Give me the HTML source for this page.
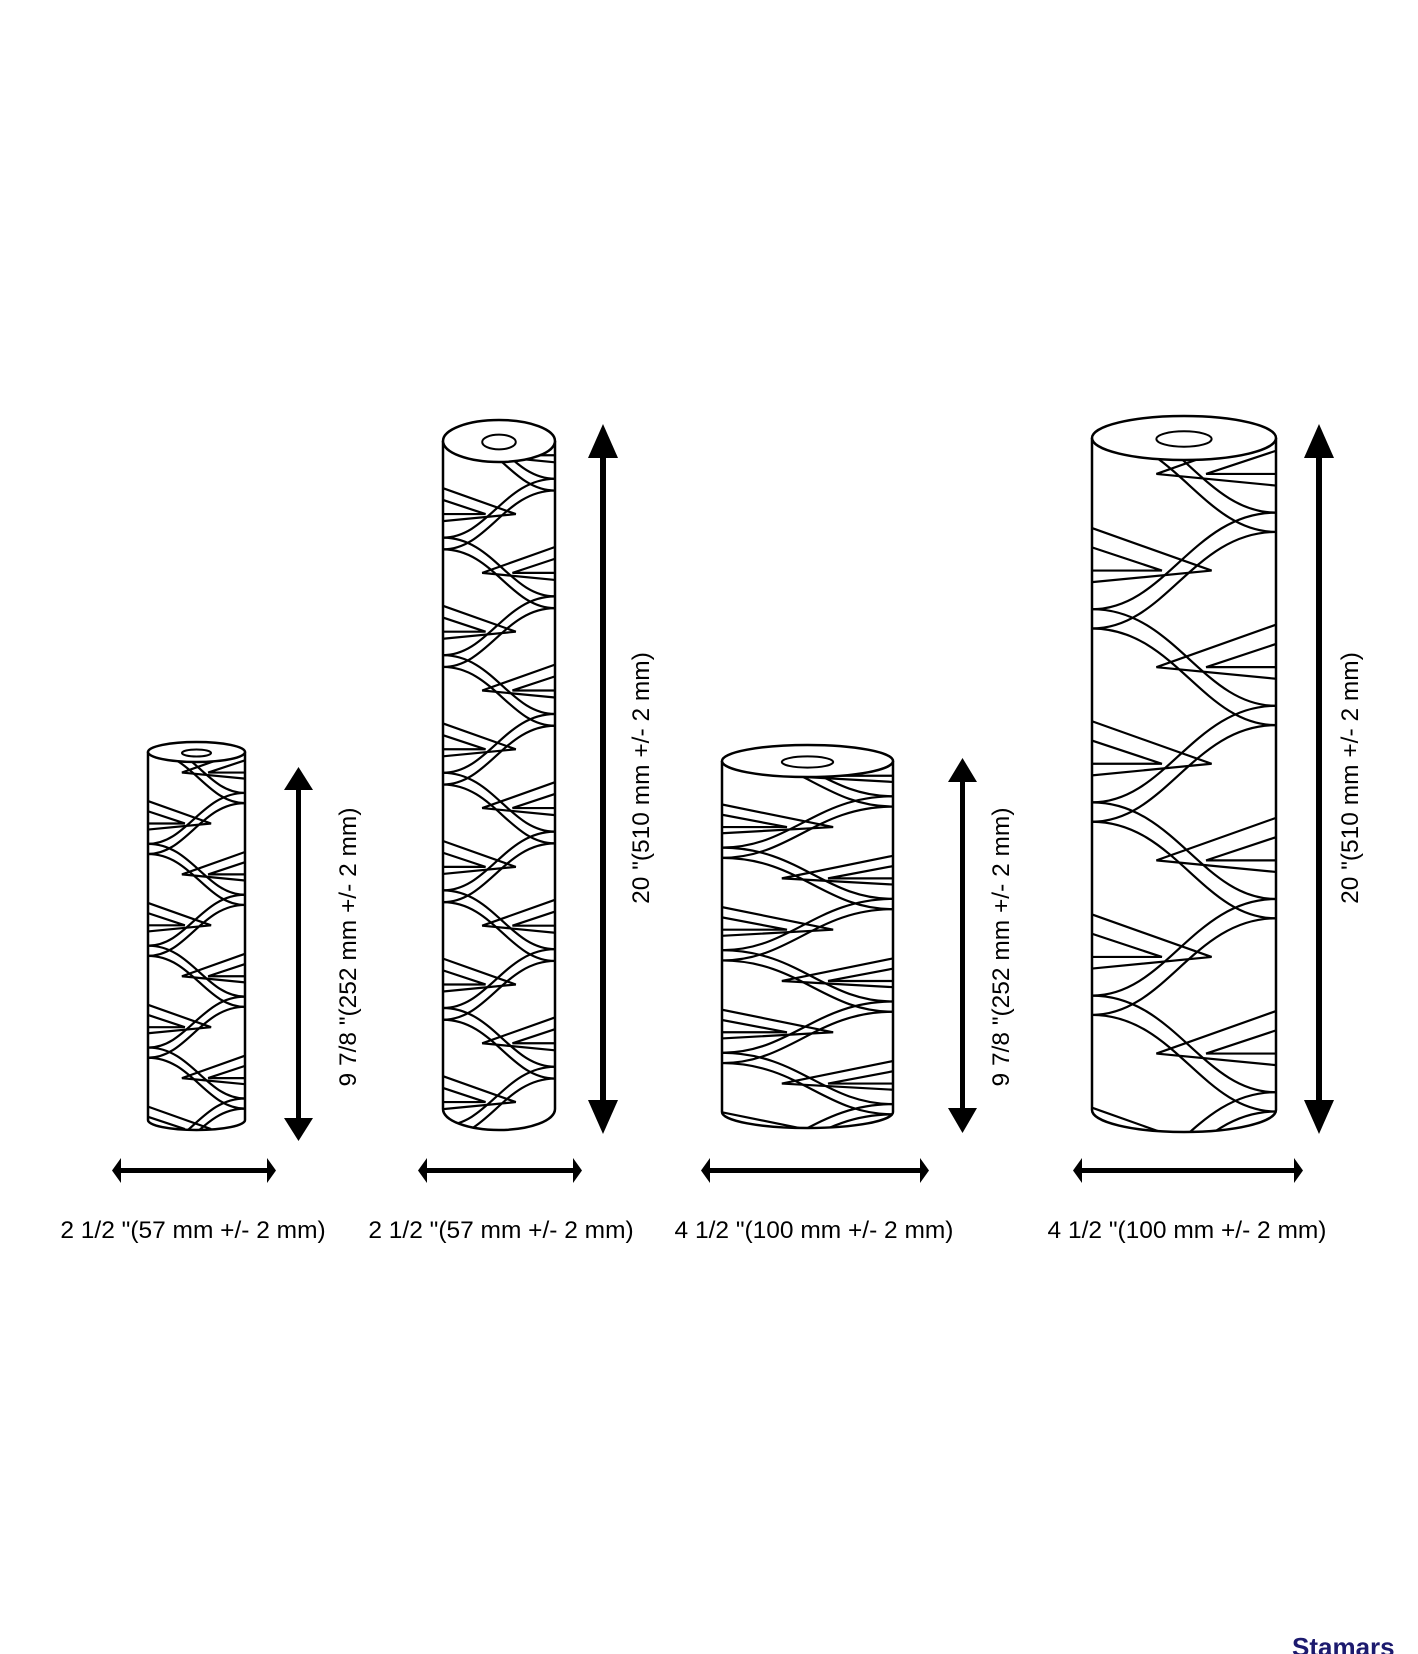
<!DOCTYPE html>
<html><head><meta charset="utf-8"><style>
html,body{margin:0;padding:0;background:#fff;}
svg{display:block;}
text{font-family:"Liberation Sans",Arial,sans-serif;}
</style></head><body>
<svg id="s" width="1418" height="1654" viewBox="0 0 1418 1654" xmlns="http://www.w3.org/2000/svg">
<g id="cyls"></g>
<g fill="#000" stroke="none">
<rect x="296" y="790" width="5" height="330"/>
<path d="M284,790 L298.5,767 L313,790 z"/><path d="M284,1118 L298.5,1141 L313,1118 z"/>
<rect x="600" y="455" width="6" height="650"/>
<path d="M588,458 L603,424 L618,458 z"/><path d="M588,1100 L603,1134 L618,1100 z"/>
<rect x="960" y="780" width="5" height="330"/>
<path d="M948,782 L962.5,758 L977,782 z"/><path d="M948,1108 L962.5,1133 L977,1108 z"/>
<rect x="1316" y="455" width="6" height="650"/>
<path d="M1304,458 L1319,424 L1334,458 z"/><path d="M1304,1100 L1319,1134 L1334,1100 z"/>
<rect x="118" y="1168" width="152" height="5"/>
<path d="M121,1158 L112,1170.5 L121,1183 z"/><path d="M267,1158 L276,1170.5 L267,1183 z"/>
<rect x="424" y="1168" width="152" height="5"/>
<path d="M427,1158 L418,1170.5 L427,1183 z"/><path d="M573,1158 L582,1170.5 L573,1183 z"/>
<rect x="707" y="1168" width="216" height="5"/>
<path d="M710,1158 L701,1170.5 L710,1183 z"/><path d="M920,1158 L929,1170.5 L920,1183 z"/>
<rect x="1079" y="1168" width="218" height="5"/>
<path d="M1082,1158 L1073,1170.5 L1082,1183 z"/><path d="M1294,1158 L1303,1170.5 L1294,1183 z"/>
</g>
<g font-size="24.5" fill="#000" text-anchor="middle">
<text x="193" y="1238">2 1/2 "(57 mm +/- 2 mm)</text>
<text x="501" y="1238">2 1/2 "(57 mm +/- 2 mm)</text>
<text x="814" y="1238">4 1/2 "(100 mm +/- 2 mm)</text>
<text x="1187" y="1238">4 1/2 "(100 mm +/- 2 mm)</text>
<text transform="translate(356,947) rotate(-90)">9 7/8 "(252 mm +/- 2 mm)</text>
<text transform="translate(649,778) rotate(-90)">20 "(510 mm +/- 2 mm)</text>
<text transform="translate(1009,947) rotate(-90)">9 7/8 "(252 mm +/- 2 mm)</text>
<text transform="translate(1358,778) rotate(-90)">20 "(510 mm +/- 2 mm)</text>
</g>
<text x="1292" y="1656" font-size="26" font-weight="bold" fill="#1c1a6e">Stamars</text>
</svg>
<script>
var C=[[148,97,742,1130,10],[443,112,420,1130,21],[722,171,745,1128,16],[1092,184,416,1132,22]];
var g=document.getElementById('cyls'),h='';
C.forEach(function(c,i){
 var x=c[0],w=c[1],t=c[2],b=c[3],ry=c[4],cx=x+w/2,ty=t+ry;
 var P=(i==2)?w*0.6:w*1.05;
 h+='<clipPath id="c'+i+'"><path d="M'+x+','+ty+' A'+w/2+','+ry+' 0 0 0 '+(x+w)+','+ty+' L'+(x+w)+','+(b-ry)+' A'+w/2+','+ry+' 0 0 1 '+x+','+(b-ry)+' z"/></clipPath>';
 h+='<g clip-path="url(#c'+i+')" fill="none" stroke="#000" stroke-width="2.2">';
 var gap=P*0.1;
 for(var y=t-P;y<b+P;y+=P){
  for(var k=0;k<2;k++){
   var o=k*gap;
   h+='<path d="M'+x+','+(y+o)+' C'+(x+w*0.45)+','+(y+o)+' '+(x+w*0.6)+','+(y+o+P*0.5)+' '+(x+w)+','+(y+o+P*0.5)+'"/>';
   h+='<path d="M'+(x+w)+','+(y+o+P*0.5)+' C'+(x+w*0.55)+','+(y+o+P*0.5)+' '+(x+w*0.4)+','+(y+o+P)+' '+x+','+(y+o+P)+'"/>';
  }
  // nested chevrons pointing left on right side
  h+='<path d="M'+(x+w)+','+(y+P*0.08)+' L'+(x+w*0.35)+','+(y+P*0.3)+' L'+(x+w)+','+(y+P*0.36)+'"/>';
  h+='<path d="M'+(x+w)+','+(y+P*0.18)+' L'+(x+w*0.62)+','+(y+P*0.3)+' L'+(x+w)+','+(y+P*0.3)+'"/>';
  // chevrons pointing right on left side
  h+='<path d="M'+x+','+(y+P*0.58)+' L'+(x+w*0.65)+','+(y+P*0.8)+' L'+x+','+(y+P*0.86)+'"/>';
  h+='<path d="M'+x+','+(y+P*0.68)+' L'+(x+w*0.38)+','+(y+P*0.8)+' L'+x+','+(y+P*0.8)+'"/>';
 }
 h+='</g>';
 h+='<path fill="none" stroke="#000" stroke-width="2.5" d="M'+x+','+ty+' L'+x+','+(b-ry)+' A'+w/2+','+ry+' 0 0 0 '+(x+w)+','+(b-ry)+' L'+(x+w)+','+ty+'"/>';
 h+='<ellipse cx="'+cx+'" cy="'+ty+'" rx="'+w/2+'" ry="'+ry+'" fill="#fff" stroke="#000" stroke-width="2.5"/>';
 h+='<ellipse cx="'+cx+'" cy="'+(ty+1)+'" rx="'+w*0.15+'" ry="'+ry*0.35+'" fill="#fff" stroke="#000" stroke-width="2"/>';
});
g.innerHTML=h;
</script>
</body></html>
